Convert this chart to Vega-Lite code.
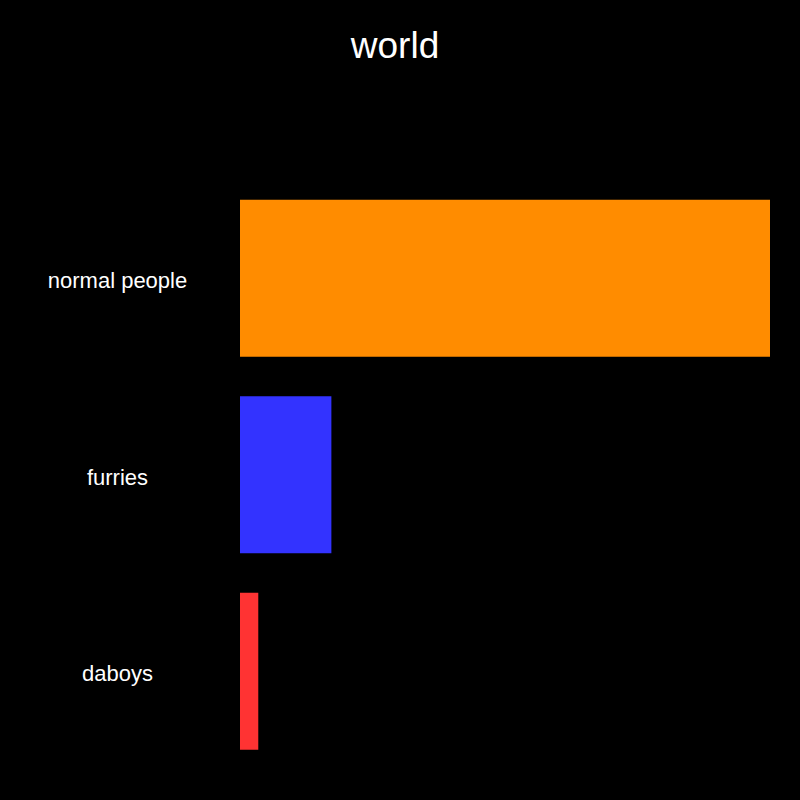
{
  "$schema": "https://vega.github.io/schema/vega-lite/v6.json",
  "background": "#000000",
  "autosize": {"type": "none"},
  "padding": {"left": 240, "top": 180, "right": 30, "bottom": 30},
  "width": 530,
  "height": 589.5,
  "title": {
    "text": "world",
    "color": "#ffffff",
    "font": "Liberation Sans",
    "fontSize": 37,
    "fontWeight": "normal",
    "anchor": "middle",
    "frame": "group",
    "dx": -110,
    "offset": 114
  },
  "data": {
    "values": [
      {"label": "normal people", "value": 29, "color": "#FF8C00"},
      {"label": "furries", "value": 5, "color": "#3333FF"},
      {"label": "daboys", "value": 1, "color": "#FF3333"}
    ]
  },
  "mark": {"type": "bar"},
  "encoding": {
    "y": {
      "field": "label",
      "type": "nominal",
      "sort": null,
      "scale": {"paddingInner": 0.2, "paddingOuter": 0.1},
      "axis": {
        "title": null,
        "domain": false,
        "ticks": false,
        "labelColor": "#ffffff",
        "labelFont": "Liberation Sans",
        "labelFontSize": 22,
        "labelAlign": "center",
        "labelPadding": 123,
        "labelBaseline": "middle",
        "labelOffset": 3
      }
    },
    "x": {
      "field": "value",
      "type": "quantitative",
      "scale": {"domain": [0, 29], "nice": false, "zero": true},
      "axis": null
    },
    "color": {"field": "color", "type": "nominal", "scale": null, "legend": null}
  },
  "config": {"view": {"stroke": null}}
}
